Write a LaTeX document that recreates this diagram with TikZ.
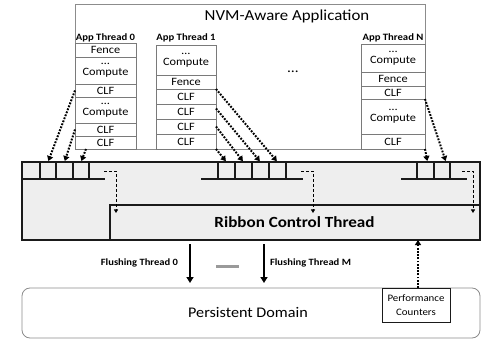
\documentclass[tikz,border=0pt]{standalone}
\usepackage{fontspec}
\setmainfont{Carlito}[FakeStretch=1.1]
\usetikzlibrary{arrows.meta,calc}
\definecolor{boxgray}{HTML}{EEEEEE}
\definecolor{edgegray}{HTML}{8C8C8C}
\definecolor{cellgray}{HTML}{7A7A7A}
\definecolor{darkline}{HTML}{1A1A1A}
\definecolor{gapgray}{HTML}{9A9A9A}
\begin{document}
\begin{tikzpicture}[x=1pt,y=-1pt,
  every node/.style={outer sep=0pt},
  cell/.style={draw=cellgray, line width=0.8pt, inner sep=0pt, anchor=north west,
    align=center, font=\fontsize{11.2}{11}\selectfont},
  thlabel/.style={font=\bfseries\fontsize{9.7}{10}\selectfont, inner sep=0pt},
  slot/.style={draw=darkline, line width=1.2pt, inner sep=0pt, anchor=north west,
    minimum height=17pt},
  qline/.style={draw=darkline, line width=1.2pt},
  feed/.style={line width=2pt, dash pattern=on 1.8pt off 1.4pt,
    -{Triangle[length=5pt,width=6pt]}, shorten >=1pt},
  handoff/.style={line width=0.9pt, dash pattern=on 3pt off 2pt,
    -{Triangle[length=3.5pt,width=4pt]}},
  flush/.style={line width=1.6pt, -{Triangle[length=6pt,width=7pt]}},
  flushlabel/.style={font=\bfseries\fontsize{9.6}{10}\selectfont, inner sep=0pt}
]
\useasboundingbox (0,0) rectangle (487,339);

% application frame
\node[draw=edgegray, line width=0.8pt, anchor=north west, minimum width=350pt,
  minimum height=145pt, inner sep=0pt] (app) at (75,4) {};
\node[font=\fontsize{15.3}{16}\selectfont, inner sep=0pt] (apptitle) at (287,16) {NVM-Aware Application};

% thread 0
\node[thlabel] (l0) at (105.5,38) {App Thread 0};
\node[cell, minimum width=61pt, minimum height=14pt] (t0a) at (75,43) {Fence};
\node[cell, minimum width=61pt, minimum height=27pt] (t0b) at (75,57) {…\\Compute};
\node[cell, minimum width=61pt, minimum height=13pt] (t0c) at (75,84) {CLF};
\node[cell, minimum width=61pt, minimum height=26pt] (t0d) at (75,97) {…\\Compute};
\node[cell, minimum width=61pt, minimum height=13pt] (t0e) at (75,123) {CLF};
\node[cell, minimum width=61pt, minimum height=13pt] (t0f) at (75,136) {CLF};

% thread 1
\node[thlabel] (l1) at (186,38) {App Thread 1};
\node[cell, minimum width=60pt, minimum height=30pt] (t1a) at (156,45) {…\\Compute};
\node[cell, minimum width=60pt, minimum height=14pt] (t1b) at (156,75) {Fence};
\node[cell, minimum width=60pt, minimum height=15pt] (t1c) at (156,89) {CLF};
\node[cell, minimum width=60pt, minimum height=15pt] (t1d) at (156,104) {CLF};
\node[cell, minimum width=60pt, minimum height=15pt] (t1e) at (156,119) {CLF};
\node[cell, minimum width=60pt, minimum height=15pt] (t1f) at (156,134) {CLF};

\node[font=\fontsize{14}{14}\selectfont, inner sep=0pt] (more) at (293,72) {…};

% thread N
\node[thlabel] (lN) at (393,38) {App Thread N};
\node[cell, minimum width=64pt, minimum height=28pt] (tNa) at (361,44) {…\\Compute};
\node[cell, minimum width=64pt, minimum height=14pt] (tNb) at (361,72) {Fence};
\node[cell, minimum width=64pt, minimum height=13pt] (tNc) at (361,86) {CLF};
\node[cell, minimum width=64pt, minimum height=35pt] (tNd) at (361,99) {…\\Compute};
\node[cell, minimum width=64pt, minimum height=15pt] (tNe) at (361,134) {CLF};

% runtime area and ribbon control thread
\node[draw=darkline, fill=boxgray, line width=1.2pt, anchor=north west,
  minimum width=458pt, minimum height=78pt, inner sep=0pt] (runtime) at (22,162) {};
\node[draw=darkline, line width=1.2pt, anchor=north west,
  minimum width=370pt, minimum height=35pt, inner sep=0pt] (ribbon) at (110,205) {};
\node[font=\bfseries\fontsize{15.5}{16}\selectfont, inner sep=0pt] (ribbontext) at (294.5,222) {Ribbon Control Thread};

% per-thread queues
\node[slot, minimum width=18pt] (q0a) at (22,162) {};
\node[slot, minimum width=16pt] (q0b) at (40,162) {};
\node[slot, minimum width=17pt] (q0c) at (56,162) {};
\node[slot, minimum width=16pt] (q0d) at (73,162) {};
\draw[qline] (q0d.north east) -- ++(16,0) (q0d.south east) -- ++(16,0);

\node[slot, minimum width=17pt] (q1a) at (218,162) {};
\node[slot, minimum width=17pt] (q1b) at (235,162) {};
\node[slot, minimum width=17pt] (q1c) at (252,162) {};
\node[slot, minimum width=17pt] (q1d) at (269,162) {};
\draw[qline] (q1a.north west) -- ++(-17,0) (q1a.south west) -- ++(-17,0);
\draw[qline] (q1d.north east) -- ++(17,0) (q1d.south east) -- ++(17,0);

\node[slot, minimum width=17pt] (qNa) at (417,162) {};
\node[slot, minimum width=16pt] (qNb) at (434,162) {};
\draw[qline] (qNa.north west) -- ++(-16,0) (qNa.south west) -- ++(-16,0);
\draw[qline] (qNb.south east) -- ++(17,0);

% cache line flushes entering the queues
\draw[feed] (t0c.west) -- (q0b.north);
\draw[feed] (t0e.west) -- (q0c.north);
\draw[feed] ([xshift=11pt]t0f.south west) -- (q0d.north);

\draw[feed] (t1c.north east) -- (q1d.north);
\draw[feed] ([yshift=3pt]t1d.east) -- (q1c.north);
\draw[feed] (t1e.east) -- (q1b.north);
\draw[feed] (t1f.south east) -- (q1a.north);

\draw[feed] (tNc.south east) -- ([xshift=4pt]qNb.north);
\draw[feed] (tNe.south east) -- ([xshift=2pt]qNa.north);

% queues handed to the ribbon control thread
\coordinate (h0) at (104,171);
\coordinate (r0) at (116,213);
\coordinate (h1) at (301,171);
\coordinate (r1) at (313,213);
\coordinate (hN) at (462,171);
\coordinate (rN) at (473,213);
\draw[handoff] (h0) -| (r0);
\draw[handoff] (h1) -| (r1);
\draw[handoff] (hN) -| (rN);

% persistent domain
\node[draw=edgegray, line width=0.8pt, rounded corners=8pt, anchor=north west,
  minimum width=458pt, minimum height=50pt, inner sep=0pt] (pd) at (22,288) {};
\node[font=\fontsize{14.7}{15}\selectfont, inner sep=0pt] (pdtext) at (248,312) {Persistent Domain};
\node[draw=darkline, fill=white, line width=1pt, anchor=north west, minimum width=68pt,
  minimum height=34pt, inner sep=0pt, align=center,
  font=\fontsize{9.9}{13.5}\selectfont] (perf) at (382,288) {Performance\\Counters};

% flushing threads
\coordinate (f0) at (190,240);
\coordinate (fM) at (264,240);
\draw[flush, shorten <=4pt, shorten >=5pt] (f0) -- (f0 |- pd.north);
\draw[flush, shorten <=4pt, shorten >=5pt] (fM) -- (fM |- pd.north);
\node[flushlabel, anchor=east] (fl0) at (178,263) {Flushing Thread 0};
\node[flushlabel, anchor=west] (flM) at (270,263) {Flushing Thread M};
\node[fill=gapgray, minimum width=23pt, minimum height=3pt, inner sep=0pt] (gap) at (227.5,266) {};

% counters feeding back to the control thread
\draw[feed, shorten >=0pt] ([xshift=2pt]perf.north) -- ([xshift=2pt]perf.north |- ribbon.south);
\end{tikzpicture}
\end{document}
